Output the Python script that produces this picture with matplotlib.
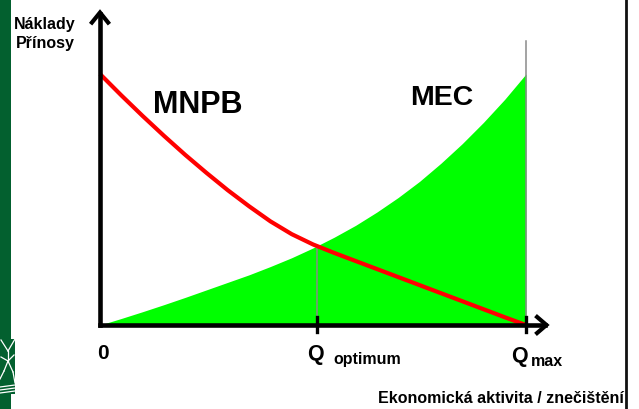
import matplotlib
matplotlib.use("Agg")
import matplotlib.pyplot as plt
from matplotlib.patches import Rectangle

plt.rcParams['font.family'] = ['Liberation Sans', 'DejaVu Sans']

# Marginal net private benefit (falls with activity) and marginal external cost (rises)
q_levels = [0.00, 0.05, 0.10, 0.15, 0.20, 0.25, 0.30, 0.35, 0.40, 0.45, 0.50,
            0.55, 0.60, 0.65, 0.70, 0.75, 0.80, 0.85, 0.90, 0.95, 1.00]
mnpb = [1.000, 0.915, 0.833, 0.754, 0.678, 0.606, 0.537, 0.473, 0.413, 0.362, 0.321,
        0.287, 0.255, 0.223, 0.191, 0.159, 0.127, 0.095, 0.063, 0.031, 0.000]
mec = [0.000, 0.026, 0.053, 0.081, 0.110, 0.140, 0.170, 0.200, 0.233, 0.268, 0.307,
       0.350, 0.397, 0.450, 0.508, 0.572, 0.644, 0.722, 0.807, 0.899, 1.000]

q_optimum = 0.509
q_max = 1.0
optimum_level = 0.315

y_label_lines = ["Náklady", "Přínosy"]
x_label = "Ekonomická aktivita / znečištění"

W, H = 639, 410
fig = plt.figure(figsize=(W / 100, H / 100), dpi=100)
fig.patch.set_facecolor("white")

# data axes: origin at (100, 326) px, unit box spans 426 x 251 px
ax = fig.add_axes([0, 0, 1, 1])
ax.set_xlim(-100 / 426, (W - 100) / 426)
ax.set_ylim((326 - H) / 251, 326 / 251)
ax.axis("off")

# area under the external cost curve
ax.fill_between(q_levels, mec, 0, color="#00ff00", linewidth=0, zorder=1)

# guide lines at the optimum and at the maximum activity
ax.plot([q_optimum, q_optimum], [0, optimum_level], color="#8a8a8a", lw=1.1, zorder=2)
ax.plot([q_max, q_max], [0, 1.131], color="#8a8a8a", lw=1.1, zorder=2)

# benefit curve
ax.plot(q_levels, mnpb, color="#ff0000", lw=3.0, solid_capstyle="butt",
        solid_joinstyle="round", zorder=3)

# coordinate axes with open arrowheads
axis_kw = dict(color="black", lw=3.3, solid_capstyle="projecting", zorder=4)
ax.plot([0, 0], [0, 1.24], **axis_kw)
ax.plot([0, 1.045], [0, 0], **axis_kw)
ax.plot([-0.019, 0, 0.019], [1.205, 1.245, 1.205], color="black", lw=3.0,
        solid_joinstyle="miter", zorder=4)
ax.plot([1.026, 1.048, 1.026], [0.032, 0, -0.032], color="black", lw=3.0,
        solid_joinstyle="miter", zorder=4)

# tick marks on the activity axis
for q in (q_optimum, q_max):
    ax.plot([q, q], [0.032, -0.028], color="black", lw=2.4, zorder=5)

# overlay in pixel coordinates for labels and frame decoration
ov = fig.add_axes([0, 0, 1, 1], facecolor="none")
ov.set_xlim(0, W)
ov.set_ylim(H, 0)
ov.axis("off")

# left green band with a small emblem, and a thin frame line on the right
ov.add_patch(Rectangle((0, 0), 11, H, color="#03602f", lw=0, zorder=1))
ov.add_patch(Rectangle((0, 340), 15, 55, color="#03602f", lw=0, zorder=1))
white = dict(color="white", lw=0.9, zorder=2)
for xs, ys in [
    ([1, 8], [341, 352]), ([15, 8], [340, 352]), ([8, 8], [352, 362]),
    ([8, 1], [362, 358]), ([8, 14], [362, 356]), ([8, 4], [362, 372]),
    ([8, 13], [362, 373]), ([4, 0], [372, 380]), ([13, 15], [373, 384]),
    ([0, 15], [388, 386]), ([0, 15], [391, 389]), ([0, 15], [394, 392]),
]:
    ov.plot(xs, ys, **white)
ov.plot([626.3, 626.3], [0, H], color="#111111", lw=2.0, zorder=2)

bold = dict(fontweight="bold", color="black")
ov.text(45, 29, y_label_lines[0], fontsize=11.5, ha="center", va="baseline", **bold)
ov.text(45, 48, y_label_lines[1], fontsize=11.5, ha="center", va="baseline", **bold)

ov.text(153, 113, "MNPB", fontsize=22, ha="left", va="baseline", **bold)
ov.text(410, 105, "MEC", fontsize=20.5, ha="left", va="baseline", **bold)

ov.text(102.5, 359, "0", fontsize=15, ha="center", va="baseline", **bold)
ov.text(307, 360, "Q", fontsize=15.5, ha="left", va="baseline", **bold)
ov.text(333, 364, "optimum", fontsize=11.5, ha="left", va="baseline", **bold)
ov.text(511, 362, "Q", fontsize=15.5, ha="left", va="baseline", **bold)
ov.text(531, 366, "max", fontsize=11.5, ha="left", va="baseline", **bold)

ov.text(624, 403, x_label, fontsize=11.5, ha="right", va="baseline", **bold)

fig.savefig("out.png", dpi=100)
